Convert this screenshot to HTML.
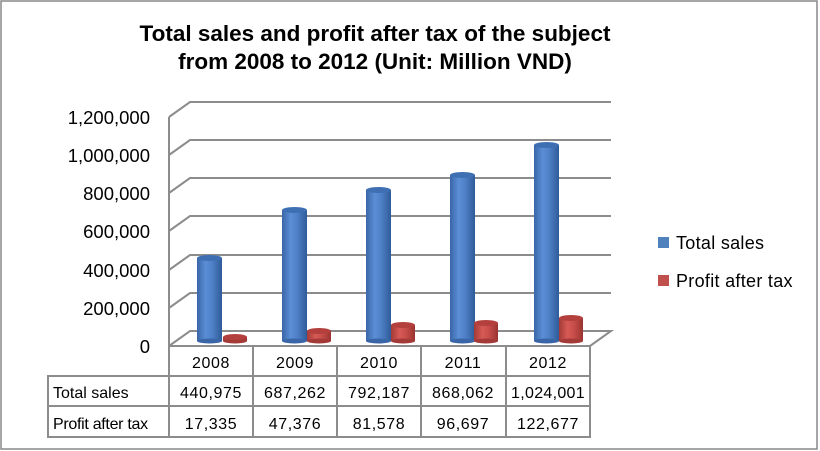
<!DOCTYPE html>
<html><head><meta charset="utf-8"><style>
html,body{margin:0;padding:0;background:#fff;}
svg{display:block;font-family:"Liberation Sans",sans-serif;}
</style></head><body>
<svg width="820" height="451" viewBox="0 0 820 451" xmlns="http://www.w3.org/2000/svg">
<defs>
<linearGradient id="gb" x1="0" x2="1" y1="0" y2="0">
<stop offset="0" stop-color="#3a66a8"/><stop offset="0.35" stop-color="#5b8ed6"/><stop offset="0.6" stop-color="#4f81c8"/><stop offset="1" stop-color="#2f5b98"/></linearGradient>
<linearGradient id="gr" x1="0" x2="1" y1="0" y2="0">
<stop offset="0" stop-color="#a33a37"/><stop offset="0.35" stop-color="#d65a55"/><stop offset="0.6" stop-color="#c94f4b"/><stop offset="1" stop-color="#9a3431"/></linearGradient>
</defs>
<rect x="1" y="1" width="816" height="448" fill="#fff" stroke="#888" stroke-width="1.5"/>
<text x="375" y="41" font-size="22.5" font-weight="bold" text-anchor="middle">Total sales and profit after tax of the subject</text>
<text x="375" y="69" font-size="22.5" font-weight="bold" text-anchor="middle">from 2008 to 2012 (Unit: Million VND)</text>
<g stroke="#8c8c8c" stroke-width="2" fill="none">
<polyline points="169,117 190,102 611,102"/>
<polyline points="169,155 190,140 611,140"/>
<polyline points="169,193 190,178 611,178"/>
<polyline points="169,231 190,216 611,216"/>
<polyline points="169,270 190,255 611,255"/>
<polyline points="169,308 190,293 611,293"/>
<polyline points="169,346 190,331 611,331 590,346"/>
<line x1="169" y1="117" x2="169" y2="346"/>
</g>
<g font-size="18.5" text-anchor="end" fill="#000">
<text x="150" y="124">1,200,000</text>
<text x="150" y="162">1,000,000</text>
<text x="150" y="200">800,000</text>
<text x="150" y="238">600,000</text>
<text x="150" y="277">400,000</text>
<text x="150" y="315">200,000</text>
<text x="150" y="353">0</text>
</g>
<g>
<rect x="197" y="258" width="25" height="83" fill="url(#gb)"/><ellipse cx="209.5" cy="341" rx="12.5" ry="2.5" fill="#3a66a8"/><ellipse cx="209.5" cy="258" rx="12.5" ry="3" fill="#3f6fb3"/>
<rect x="282" y="210" width="25" height="131" fill="url(#gb)"/><ellipse cx="294.5" cy="341" rx="12.5" ry="2.5" fill="#3a66a8"/><ellipse cx="294.5" cy="210" rx="12.5" ry="3" fill="#3f6fb3"/>
<rect x="366" y="190" width="25" height="151" fill="url(#gb)"/><ellipse cx="378.5" cy="341" rx="12.5" ry="2.5" fill="#3a66a8"/><ellipse cx="378.5" cy="190" rx="12.5" ry="3" fill="#3f6fb3"/>
<rect x="450" y="175" width="25" height="166" fill="url(#gb)"/><ellipse cx="462.5" cy="341" rx="12.5" ry="2.5" fill="#3a66a8"/><ellipse cx="462.5" cy="175" rx="12.5" ry="3" fill="#3f6fb3"/>
<rect x="534" y="145" width="25" height="196" fill="url(#gb)"/><ellipse cx="546.5" cy="341" rx="12.5" ry="2.5" fill="#3a66a8"/><ellipse cx="546.5" cy="145" rx="12.5" ry="3" fill="#3f6fb3"/>

<rect x="223" y="337" width="24" height="4" fill="url(#gr)"/><ellipse cx="235" cy="341" rx="12" ry="2.5" fill="#a33a37"/><ellipse cx="235" cy="337" rx="12" ry="3" fill="#b3403c"/>
<rect x="307" y="331" width="24" height="10" fill="url(#gr)"/><ellipse cx="319" cy="341" rx="12" ry="2.5" fill="#a33a37"/><ellipse cx="319" cy="331" rx="12" ry="3" fill="#b3403c"/>
<rect x="391" y="325" width="24" height="16" fill="url(#gr)"/><ellipse cx="403" cy="341" rx="12" ry="2.5" fill="#a33a37"/><ellipse cx="403" cy="325" rx="12" ry="3" fill="#b3403c"/>
<rect x="474" y="323" width="24" height="18" fill="url(#gr)"/><ellipse cx="486" cy="341" rx="12" ry="2.5" fill="#a33a37"/><ellipse cx="486" cy="323" rx="12" ry="3" fill="#b3403c"/>
<rect x="559" y="318" width="24" height="23" fill="url(#gr)"/><ellipse cx="571" cy="341" rx="12" ry="2.5" fill="#a33a37"/><ellipse cx="571" cy="318" rx="12" ry="3" fill="#b3403c"/>
</g>
<g stroke="#8c8c8c" stroke-width="2" fill="none">
<rect x="169" y="346" width="421" height="91"/>
<rect x="48" y="376" width="121" height="61"/>
<line x1="48" y1="406" x2="590" y2="406"/>
<line x1="169" y1="376" x2="590" y2="376"/>
<line x1="253" y1="346" x2="253" y2="437"/>
<line x1="337" y1="346" x2="337" y2="437"/>
<line x1="421" y1="346" x2="421" y2="437"/>
<line x1="506" y1="346" x2="506" y2="437"/>
</g>
<g font-size="16" text-anchor="middle" fill="#000" letter-spacing="0.6">
<text x="211" y="368">2008</text><text x="295" y="368">2009</text><text x="379" y="368">2010</text><text x="463" y="368">2011</text><text x="548" y="368">2012</text>
<text x="211" y="398">440,975</text><text x="295" y="398">687,262</text><text x="379" y="398">792,187</text><text x="463" y="398">868,062</text><text x="548" y="398" letter-spacing="0.3">1,024,001</text>
<text x="211" y="429">17,335</text><text x="295" y="429">47,376</text><text x="379" y="429">81,578</text><text x="463" y="429">96,697</text><text x="548" y="429">122,677</text>
<text x="53" y="398" text-anchor="start" letter-spacing="0">Total sales</text>
<text x="53" y="429" text-anchor="start" letter-spacing="-0.3">Profit after tax</text>
</g>
<rect x="658" y="237" width="11" height="11" fill="#4f81bd"/>
<text x="676" y="249" font-size="18" letter-spacing="0.3">Total sales</text>
<rect x="658" y="275" width="11" height="11" fill="#c0504d"/>
<text x="676" y="287" font-size="18" letter-spacing="0.3">Profit after tax</text>
</svg>
</body></html>
